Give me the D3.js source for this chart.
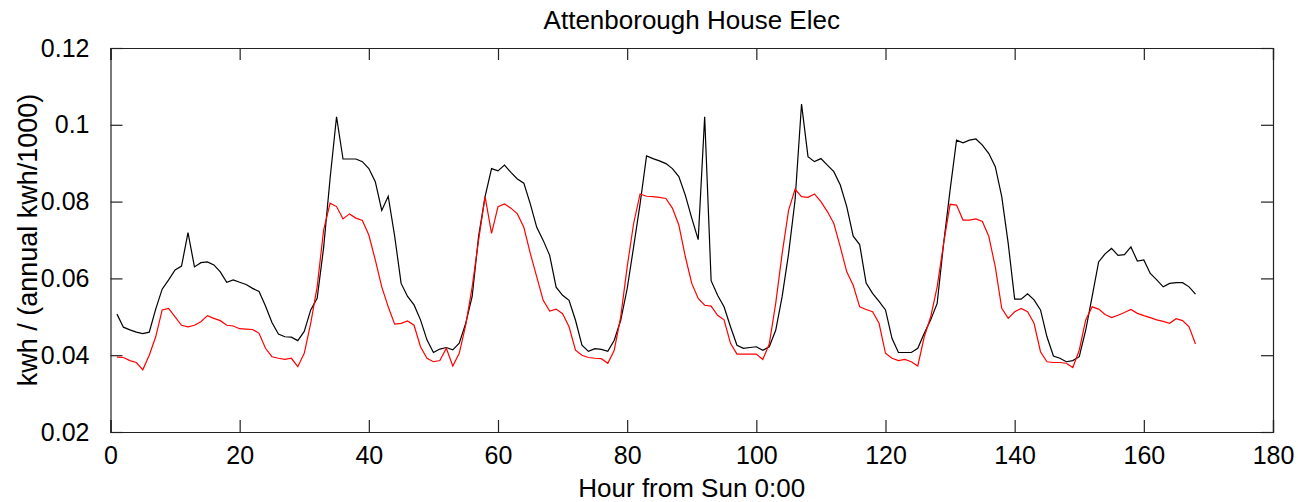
<!DOCTYPE html>
<html>
<head>
<meta charset="utf-8">
<script src="https://cdn.jsdelivr.net/npm/d3@7"></script>
<style>
  body { margin: 0; background: #ffffff; }
  #chart-div { width: 1298px; height: 502px; }
  text { font-family: "Liberation Sans", Arial, sans-serif; fill: #000; }
</style>
</head>
<body>
<div id="chart-div"></div>
<script>
// weekly profile, one value per hour (hour 1..168)
const totalElec = [
  0.0507, 0.0473, 0.0466, 0.0460, 0.0456, 0.0460, 0.0520, 0.0572, 0.0596, 0.0622,
  0.0632, 0.0719, 0.0630, 0.0641, 0.0643, 0.0635, 0.0617, 0.0590, 0.0596, 0.0590,
  0.0584, 0.0574, 0.0566, 0.0528, 0.0485, 0.0455, 0.0448, 0.0447, 0.0438, 0.0462,
  0.0518, 0.0548, 0.0680, 0.0860, 0.1021, 0.0911, 0.0911, 0.0911, 0.0904, 0.0886,
  0.0852, 0.0777, 0.0814, 0.0710, 0.0587, 0.0553, 0.0531, 0.0492, 0.0440, 0.0407,
  0.0416, 0.0420, 0.0414, 0.0431, 0.0483, 0.0553, 0.0710, 0.0813, 0.0886, 0.0880,
  0.0895, 0.0876, 0.0859, 0.0848, 0.0794, 0.0733, 0.0699, 0.0660, 0.0577, 0.0556,
  0.0543, 0.0491, 0.0426, 0.0410, 0.0417, 0.0415, 0.0410, 0.0439, 0.0491, 0.0573,
  0.0682, 0.0794, 0.0919, 0.0912, 0.0906, 0.0899, 0.0886, 0.0865, 0.0817, 0.0757,
  0.0701, 0.1021, 0.0594, 0.0556, 0.0526, 0.0474, 0.0426, 0.0418, 0.0420, 0.0422,
  0.0413, 0.0422, 0.0465, 0.0553, 0.0665, 0.0804, 0.1054, 0.0917, 0.0904, 0.0912,
  0.0895, 0.0878, 0.0843, 0.0787, 0.0710, 0.0688, 0.0588, 0.0561, 0.0540, 0.0518,
  0.0444, 0.0407, 0.0407, 0.0407, 0.0418, 0.0457, 0.0492, 0.0535, 0.0691, 0.0830,
  0.0960, 0.0953, 0.0960, 0.0963, 0.0947, 0.0925, 0.0891, 0.0813, 0.0691, 0.0546,
  0.0546, 0.0560, 0.0544, 0.0518, 0.0448, 0.0398, 0.0392, 0.0383, 0.0386, 0.0396,
  0.0465, 0.0553, 0.0643, 0.0664, 0.0678, 0.0660, 0.0662, 0.0682, 0.0645, 0.0648,
  0.0613, 0.0596, 0.0578, 0.0587, 0.0589, 0.0589, 0.0578, 0.0559
];

const redElec = [
  0.0395, 0.0394, 0.0386, 0.0381, 0.0362, 0.0400, 0.0448, 0.0518, 0.0522, 0.0500,
  0.0478, 0.0474, 0.0478, 0.0487, 0.0503, 0.0496, 0.0490, 0.0478, 0.0476, 0.0469,
  0.0468, 0.0467, 0.0457, 0.0418, 0.0396, 0.0392, 0.0389, 0.0392, 0.0370, 0.0405,
  0.0483, 0.0578, 0.0726, 0.0796, 0.0787, 0.0755, 0.0768, 0.0757, 0.0751, 0.0713,
  0.0648, 0.0578, 0.0526, 0.0481, 0.0483, 0.0489, 0.0478, 0.0422, 0.0392, 0.0383,
  0.0386, 0.0418, 0.0372, 0.0405, 0.0478, 0.0578, 0.0700, 0.0813, 0.0717, 0.0787,
  0.0794, 0.0783, 0.0768, 0.0733, 0.0665, 0.0604, 0.0543, 0.0515, 0.0520, 0.0508,
  0.0474, 0.0413, 0.0400, 0.0394, 0.0392, 0.0391, 0.0379, 0.0413, 0.0500, 0.0630,
  0.0743, 0.0820, 0.0814, 0.0813, 0.0811, 0.0808, 0.0783, 0.0739, 0.0657, 0.0587,
  0.0548, 0.0530, 0.0528, 0.0504, 0.0492, 0.0431, 0.0403, 0.0403, 0.0403, 0.0403,
  0.0389, 0.0429, 0.0535, 0.0665, 0.0778, 0.0832, 0.0813, 0.0811, 0.0820, 0.0800,
  0.0774, 0.0743, 0.0682, 0.0617, 0.0582, 0.0526, 0.0519, 0.0513, 0.0483, 0.0405,
  0.0392, 0.0386, 0.0389, 0.0383, 0.0372, 0.0448, 0.0500, 0.0578, 0.0691, 0.0793,
  0.0791, 0.0752, 0.0752, 0.0755, 0.0748, 0.0709, 0.0630, 0.0522, 0.0496, 0.0513,
  0.0522, 0.0513, 0.0483, 0.0409, 0.0383, 0.0381, 0.0381, 0.0379, 0.0368, 0.0413,
  0.0492, 0.0526, 0.0520, 0.0506, 0.0498, 0.0504, 0.0511, 0.0519, 0.0509, 0.0503,
  0.0498, 0.0492, 0.0488, 0.0483, 0.0495, 0.0490, 0.0474, 0.0429
];

const xTicks = [0, 20, 40, 60, 80, 100, 120, 140, 160, 180];
const yTicks = [0.02, 0.04, 0.06, 0.08, 0.1, 0.12];
const yTickLabels = ['0.02', '0.04', '0.06', '0.08', '0.1', '0.12'];

const chartTitle = 'Attenborough House Elec';
const xLabel = 'Hour from Sun 0:00';
const yLabel = 'kwh / (annual kwh/1000)';

function drawChart() {
  const width = 1298;
  const height = 502;
  const margin = { top: 48, right: 25, bottom: 70, left: 110.5 };
  const innerW = width - margin.left - margin.right;
  const innerH = height - margin.top - margin.bottom;
  const tickLen = 12;

  const svg = d3.select('#chart-div')
    .append('svg')
    .attr('width', width)
    .attr('height', height);

  const g = svg.append('g')
    .attr('transform', `translate(${margin.left},${margin.top})`);

  const x = d3.scaleLinear().domain([0, 180]).range([0, innerW]);
  const y = d3.scaleLinear().domain([0.02, 0.12]).range([innerH, 0]);

  // --- Axes (box with inward ticks on all sides) ---
  const bottomAxis = d3.axisBottom(x).tickValues(xTicks).tickSize(-tickLen).tickPadding(tickLen + 2);
  const topAxis = d3.axisTop(x).tickValues(xTicks).tickSize(-tickLen).tickFormat('');
  const leftAxis = d3.axisLeft(y).tickValues(yTicks).tickSize(-tickLen).tickPadding(tickLen + 9)
    .tickFormat((d, i) => yTickLabels[i]);
  const rightAxis = d3.axisRight(y).tickValues(yTicks).tickSize(-tickLen).tickFormat('');

  g.append('g').attr('transform', `translate(0,${innerH})`).call(bottomAxis)
    .selectAll('text').attr('dy', '0.71em').style('font-size', '25px');
  g.append('g').call(topAxis);
  g.append('g').call(leftAxis)
    .selectAll('text').style('font-size', '25px');
  g.append('g').attr('transform', `translate(${innerW},0)`).call(rightAxis);

  g.selectAll('.domain').attr('stroke', '#222').attr('stroke-width', 1.2);
  g.selectAll('.tick line').attr('stroke', '#222').attr('stroke-width', 1.2);
  g.selectAll('.tick text').attr('fill', '#000').style('font-family', '"Liberation Sans", Arial, sans-serif');

  // --- Lines ---
  const line = d3.line()
    .x((d, i) => x(i + 1))
    .y(d => y(d));

  g.append('path')
    .datum(totalElec)
    .attr('fill', 'none')
    .attr('stroke', '#000000')
    .attr('stroke-width', 1.2)
    .attr('d', line);

  g.append('path')
    .datum(redElec)
    .attr('fill', 'none')
    .attr('stroke', '#ff0000')
    .attr('stroke-width', 1.2)
    .attr('d', line);

  // --- Labels ---
  svg.append('text')
    .attr('x', margin.left + innerW / 2)
    .attr('y', 29)
    .attr('text-anchor', 'middle')
    .style('font-size', '26px')
    .text(chartTitle);

  svg.append('text')
    .attr('x', margin.left + innerW / 2)
    .attr('y', 497)
    .attr('text-anchor', 'middle')
    .style('font-size', '26px')
    .text(xLabel);

  svg.append('text')
    .attr('transform', `translate(37,${margin.top + innerH / 2}) rotate(-90)`)
    .attr('text-anchor', 'middle')
    .style('font-size', '27px')
    .text(yLabel);
}

drawChart();
</script>
</body>
</html>
